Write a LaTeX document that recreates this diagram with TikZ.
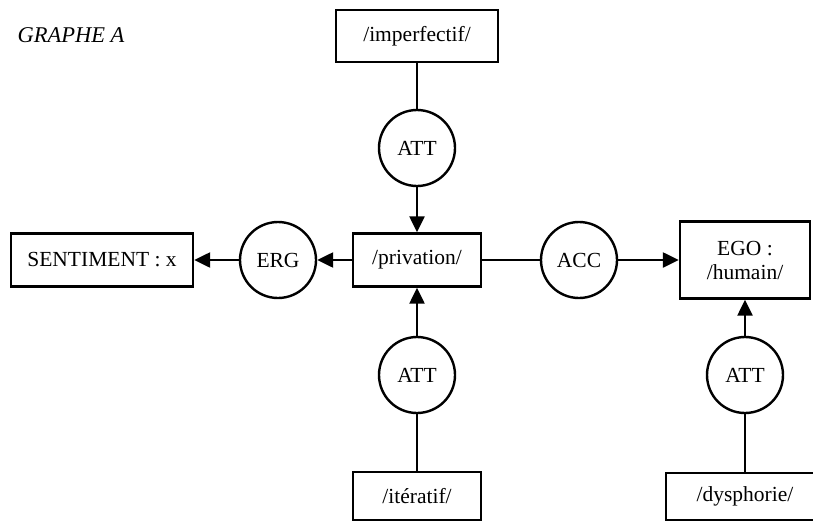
\documentclass[tikz,border=0pt]{standalone}
\usepackage{fontspec}
\setmainfont{Liberation Serif}
\usetikzlibrary{arrows.meta}
\begin{document}
\begin{tikzpicture}[x=1pt,y=-1pt,
  box/.style={draw,line width=2.4pt,rectangle,inner sep=0pt,font=\fontsize{21.5}{24}\selectfont,align=center},
  rel/.style={draw,line width=2.4pt,circle,minimum size=76pt,inner sep=0pt,font=\fontsize{21.5}{24}\selectfont},
  link/.style={line width=2.4pt},
  arr/.style={line width=2.4pt,-{Triangle[length=16pt,width=15pt]}}]
\useasboundingbox (0,0) rectangle (813,522);
\clip (0,0) rectangle (813,522);
\node[font=\fontsize{22.5}{26}\selectfont\itshape,anchor=west] (title) at (14,35) {GRAPHE A};
\node[box,minimum width=162pt,minimum height=52pt] (imp) at (417,36) {/imperfectif/};
\node[rel] (att1) at (417,148) {ATT};
\node[box,minimum width=128pt,minimum height=53pt] (priv) at (417,260) {/privation/};
\node[rel] (erg) at (278,260) {ERG};
\node[box,minimum width=182pt,minimum height=53pt] (sent) at (102,260) {SENTIMENT : x};
\node[rel] (acc) at (579,260) {ACC};
\node[box,minimum width=130pt,minimum height=77pt] (ego) at (745,260) {EGO :\\/humain/};
\node[rel] (att2) at (417,375) {ATT};
\node[box,minimum width=128pt,minimum height=48pt] (iter) at (417,496) {/itératif/};
\node[rel] (att3) at (745,375) {ATT};
\node[box,minimum width=158pt,minimum height=47pt] (dys) at (745,496.5) {/dysphorie/};
\draw[link] (imp) -- (att1);
\draw[arr] (att1) -- (priv);
\draw[arr] (priv) -- (erg);
\draw[arr] (erg) -- (sent);
\draw[link] (priv) -- (acc);
\draw[arr] (acc) -- (ego);
\draw[arr] (att2) -- (priv);
\draw[link] (iter) -- (att2);
\draw[arr] (att3) -- (ego);
\draw[link] (dys) -- (att3);
\end{tikzpicture}
\end{document}
